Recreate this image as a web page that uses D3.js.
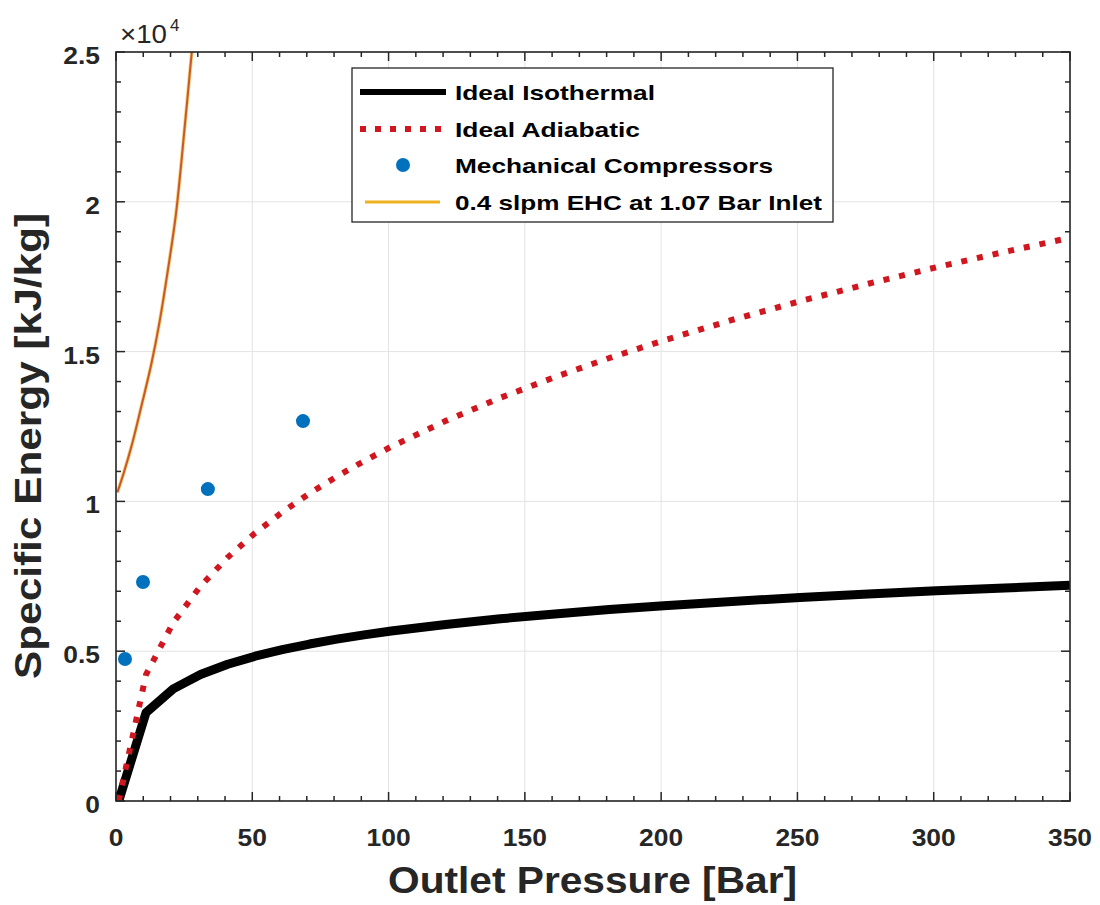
<!DOCTYPE html>
<html><head><meta charset="utf-8">
<script src="https://cdn.jsdelivr.net/npm/d3@7"></script>
<style>body{margin:0;background:#fff}svg{display:block}text{font-family:"Liberation Sans",Arial,sans-serif}</style>
</head><body><svg id="c" width="1100" height="905"></svg>
<script>
// ---- data ----
const pressure = [1,11,21,31,41,51,61,71,81,91,101,121,141,161,181,201,226,251,276,301,326,350];
const isothermal = [0,2947,3742,4220,4564,4832,5052,5239,5401,5544,5672,5894,6082,6245,6389,6518,6662,6791,6908,7014,7112,7199];
const adiabatic = [0,4216,5954,7171,8134,8941,9643,10266,10831,11348,11828,12689,13457,14150,14786,15375,16056,16683,17264,17815,18329,18800];
const mechPressure = [3.3,9.9,33.7,68.6];
const mechEnergy = [4740,7310,10410,12680];
const ehcPressure = [0.5,3,6,9.5,13,16,19,22,25,27.8];
const ehcEnergy = [10300,11000,11950,13250,14600,16000,17700,19600,22300,25000];
const xTicks = [0,50,100,150,200,250,300,350];
const yTicks = [0,5000,10000,15000,20000,25000];
const yTickLabels = ["0","0.5","1","1.5","2","2.5"];
const legendLabels = ["Ideal Isothermal","Ideal Adiabatic","Mechanical Compressors","0.4 slpm EHC at 1.07 Bar Inlet"];

const svg = d3.select("#c");
const L=116, R=1070, T=52, B=801;
const x = d3.scaleLinear().domain([0,350]).range([L,R]);
const y = d3.scaleLinear().domain([0,25000]).range([B,T]);
const axisCol = "#262626";
function stretch(sel, f){ sel.each(function(){ const w=this.getComputedTextLength(); this.setAttribute("textLength", w*f); this.setAttribute("lengthAdjust","spacingAndGlyphs"); }); }

// grid
const g = svg.append("g");
g.selectAll(".gx").data(xTicks).join("line").attr("x1",d=>x(d)).attr("x2",d=>x(d)).attr("y1",T).attr("y2",B).attr("stroke","#e3e3e3").attr("stroke-width",1);
g.selectAll(".gy").data(yTicks).join("line").attr("y1",d=>y(d)).attr("y2",d=>y(d)).attr("x1",L).attr("x2",R).attr("stroke","#e3e3e3").attr("stroke-width",1);

// clip
svg.append("clipPath").attr("id","clip").append("rect").attr("x",L).attr("y",T).attr("width",R-L).attr("height",B-T);
const plot = svg.append("g").attr("clip-path","url(#clip)");

const line = d3.line().x(d=>x(d[0])).y(d=>y(d[1]));
// EHC
const ehc = ehcPressure.map((p,i)=>[p,ehcEnergy[i]]);
const ehcLine = d3.line().x(d=>x(d[0])).y(d=>y(d[1])).curve(d3.curveCatmullRom);
plot.append("path").attr("d",ehcLine(ehc)).attr("fill","none").attr("stroke","#EDB120").attr("stroke-width",3.6).attr("opacity",0.6);
plot.append("path").attr("d",ehcLine(ehc)).attr("fill","none").attr("stroke","#C9582B").attr("stroke-width",2);
// isothermal
plot.append("path").attr("d",line(pressure.map((p,i)=>[p,isothermal[i]]))).attr("fill","none").attr("stroke","#000").attr("stroke-width",9).attr("stroke-linejoin","round");
// adiabatic
plot.append("path").attr("d",line(pressure.map((p,i)=>[p,adiabatic[i]]))).attr("fill","none").attr("stroke","#D0161E").attr("stroke-width",6).attr("stroke-dasharray","6 10");
// mechanical
plot.selectAll(".m").data(mechPressure).join("circle").attr("cx",d=>x(d)).attr("cy",(d,i)=>y(mechEnergy[i])).attr("r",7).attr("fill","#0072BD");

// axes with inner ticks
function ticksX(yPos, dir){
  const ax = svg.append("g");
  ax.selectAll("line.maj").data(xTicks).join("line").attr("x1",d=>x(d)).attr("x2",d=>x(d)).attr("y1",yPos).attr("y2",yPos+dir*9).attr("stroke",axisCol).attr("stroke-width",1.5);
  const minors = d3.range(0,351,10).filter(v=>v%50!==0);
  ax.selectAll("line.min").data(minors).join("line").attr("x1",d=>x(d)).attr("x2",d=>x(d)).attr("y1",yPos).attr("y2",yPos+dir*5).attr("stroke",axisCol).attr("stroke-width",1.5);
}
function ticksY(xPos, dir){
  const ax = svg.append("g");
  ax.selectAll("line.maj").data(yTicks).join("line").attr("y1",d=>y(d)).attr("y2",d=>y(d)).attr("x1",xPos).attr("x2",xPos+dir*9).attr("stroke",axisCol).attr("stroke-width",1.5);
  const minors = d3.range(0,25001,1000).filter(v=>v%5000!==0);
  ax.selectAll("line.min").data(minors).join("line").attr("y1",d=>y(d)).attr("y2",d=>y(d)).attr("x1",xPos).attr("x2",xPos+dir*5).attr("stroke",axisCol).attr("stroke-width",1.5);
}
ticksX(B,-1); ticksX(T,1); ticksY(L,1); ticksY(R,-1);
svg.append("rect").attr("x",L).attr("y",T).attr("width",R-L).attr("height",B-T).attr("fill","none").attr("stroke",axisCol).attr("stroke-width",1.6);

// tick labels
const xl = svg.selectAll(".xl").data(xTicks).join("text").attr("x",d=>x(d)).attr("y",846).attr("text-anchor","middle")
  .attr("font-size",24).attr("font-weight","bold").attr("fill",axisCol).text(d=>d);
stretch(xl,1.1);
const yl = svg.selectAll(".yl").data(yTicks).join("text").attr("x",100).attr("y",d=>y(d)+12).attr("text-anchor","end")
  .attr("font-size",24).attr("font-weight","bold").attr("fill",axisCol).text((d,i)=>yTickLabels[i]);
stretch(yl,1.1);
// exponent
const ex = svg.append("text").attr("x",120).attr("y",43).attr("font-size",25).attr("fill",axisCol);
ex.append("tspan").text("×10").attr("textLength",47).attr("lengthAdjust","spacingAndGlyphs");
ex.append("tspan").attr("font-size",17).attr("dx",3).attr("dy",-12).text("4");

// axis titles
svg.append("text").attr("x",(388+797)/2).attr("y",893).attr("text-anchor","middle").attr("font-size",36).attr("font-weight","bold").attr("fill",axisCol)
  .attr("textLength",409).attr("lengthAdjust","spacingAndGlyphs").text("Outlet Pressure [Bar]");
svg.append("text").attr("transform",`translate(41,446) rotate(-90)`).attr("text-anchor","middle").attr("font-size",36).attr("font-weight","bold").attr("fill",axisCol)
  .attr("textLength",466).attr("lengthAdjust","spacingAndGlyphs").text("Specific Energy [kJ/kg]");

// legend
const lg = svg.append("g");
lg.append("rect").attr("x",352).attr("y",68).attr("width",481).attr("height",154).attr("fill","#fff").attr("stroke",axisCol).attr("stroke-width",1.3);
const rows = [92,129,165,202];
const legWidths = [200,185,318,367];
lg.append("line").attr("x1",360).attr("x2",446).attr("y1",rows[0]).attr("y2",rows[0]).attr("stroke","#000").attr("stroke-width",6);
lg.append("line").attr("x1",360).attr("x2",446).attr("y1",rows[1]).attr("y2",rows[1]).attr("stroke","#D0161E").attr("stroke-width",6).attr("stroke-dasharray","6 9");
lg.append("circle").attr("cx",403).attr("cy",rows[2]).attr("r",7).attr("fill","#0072BD");
lg.append("line").attr("x1",365).attr("x2",440).attr("y1",rows[3]).attr("y2",rows[3]).attr("stroke","#EDB120").attr("stroke-width",3);
lg.selectAll(".lt").data(legendLabels).join("text").attr("x",455).attr("y",(d,i)=>rows[i]+7.5)
  .attr("font-size",21).attr("font-weight","bold").attr("fill","#000")
  .attr("textLength",(d,i)=>legWidths[i]).attr("lengthAdjust","spacingAndGlyphs").text(d=>d);
</script></body></html>
